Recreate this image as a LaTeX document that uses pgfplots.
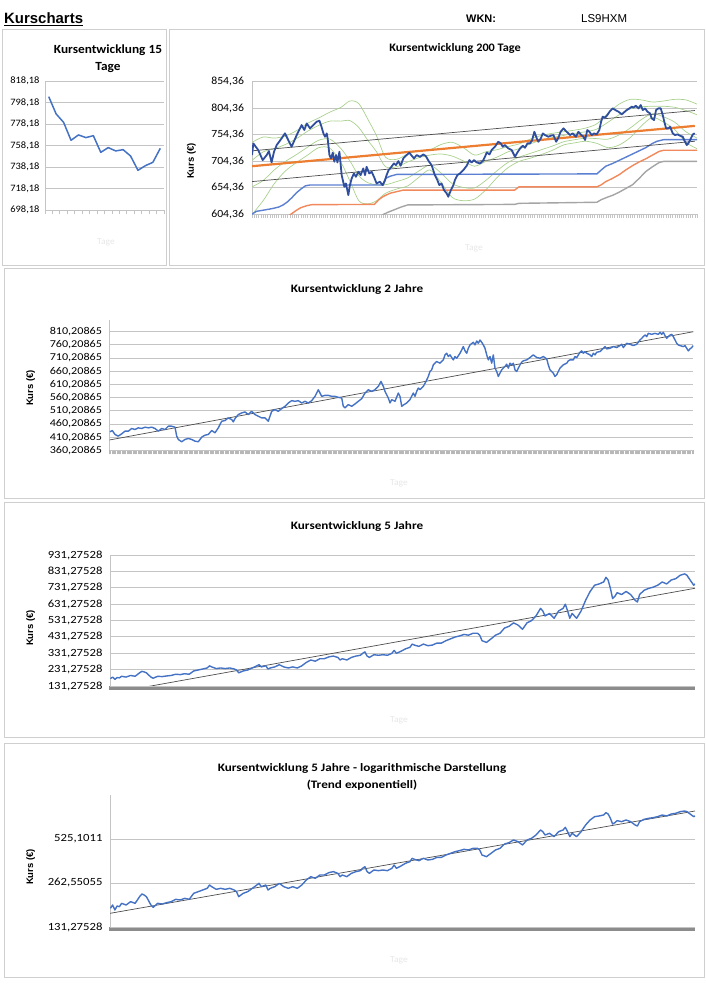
\documentclass[border=0pt]{standalone}
\usepackage{pgfplots}
\usepackage{pgfplotstable}
\pgfplotsset{compat=1.18}
\usepackage{fontspec}
\setmainfont{Carlito}
\newfontfamily\cfA[FakeStretch=1.07]{Carlito}
\newfontfamily\cfB[FakeStretch=1.16]{Carlito}
\newfontfamily\arial{Liberation Sans}

\definecolor{xlblue}{HTML}{4472C4}
\definecolor{xldark}{HTML}{2F4F9E}
\definecolor{stepblue}{HTML}{5B7FD1}
\definecolor{xlorange}{HTML}{ED7D31}
\definecolor{salmon}{HTML}{F2895C}
\definecolor{stepgray}{HTML}{A5A5A5}
\definecolor{xlgreen}{HTML}{A9D18E}
\definecolor{gridgray}{HTML}{C4C4C4}
\definecolor{bandgray}{HTML}{B8B8B8}
\definecolor{framegray}{HTML}{CFCFCF}
\definecolor{trendgray}{HTML}{4D4D4D}
\definecolor{faint}{HTML}{E6E6E6}

\pgfplotsset{
  xlaxis/.style={
    scale only axis, anchor=south west,
    axis lines*=left,
    axis line style={gridgray, line width=0.8bp},
    tick align=outside,
    ytick style={draw=none},
    ymajorgrids, grid style={gridgray, line width=0.8bp},
    xticklabels={},
    clip=true,
  },
}

% 5 Jahre, shared by the linear and the log chart (x in pixel units of the plot)
\pgfplotstableread{
x y
110.4 176.2
112.6 185.7
114.9 171.6
117.1 182.8
119.4 180.8
121.6 190.6
126.1 185.7
130.6 195.7
135.1 190.6
139.6 211.7
141.9 220.8
144.1 217.3
146.4 211.7
150.9 185.7
153.2 178.9
157.7 190.6
162.2 188.6
166.7 192.6
171.2 195.7
175.7 203.0
180.2 200.8
184.7 206.2
189.2 203.0
193.7 223.1
198.2 229.0
202.7 235.1
207.2 241.4
209.5 254.4
211.7 247.8
216.2 237.6
220.7 241.4
225.2 237.6
229.7 241.4
234.2 235.1
236.5 229.0
238.7 211.7
243.2 223.1
247.7 229.0
252.3 241.4
256.8 254.4
259.0 261.1
261.3 247.8
265.8 254.4
268.0 235.1
270.3 241.4
274.8 247.8
279.3 261.1
283.8 247.8
288.3 241.4
292.8 247.8
297.3 241.4
301.8 254.4
306.3 275.2
310.8 290.1
315.3 282.6
319.8 297.8
324.3 297.8
328.8 309.0
333.3 314.0
337.8 305.8
340.1 290.1
342.3 297.8
346.8 290.1
351.4 305.8
355.9 314.0
360.4 318.9
362.6 330.8
364.9 339.6
367.1 314.0
369.4 305.8
373.9 322.2
378.4 318.9
382.9 322.2
387.4 318.9
391.9 330.8
394.1 348.6
396.4 330.8
400.9 343.1
405.4 357.9
409.9 367.4
412.2 387.3
414.4 381.2
418.9 373.2
423.4 387.3
427.9 377.2
432.4 381.2
436.9 393.3
441.4 393.3
445.9 408.0
450.5 418.9
455.0 430.1
459.5 437.0
464.0 446.2
468.5 441.6
473.0 453.3
477.5 453.3
479.7 441.6
482.0 408.0
486.5 397.4
488.7 408.0
491.0 418.9
495.5 441.6
500.0 453.3
504.5 485.2
509.0 495.7
513.5 516.8
518.0 503.4
522.5 477.8
527.0 516.8
531.5 530.6
536.0 559.2
540.5 605.3
542.8 589.6
545.0 559.2
549.5 574.2
554.1 544.8
558.6 589.6
563.1 605.3
565.3 631.0
567.6 589.6
569.8 544.8
572.1 574.2
576.6 544.8
581.1 589.6
585.6 654.7
590.1 708.4
594.6 746.8
599.1 754.6
603.6 766.4
605.9 794.9
608.1 778.5
610.4 727.3
612.6 665.0
614.9 679.1
617.1 701.1
621.6 690.0
626.1 708.4
630.6 690.0
635.1 654.7
637.4 644.3
639.6 690.0
644.1 715.8
648.6 727.3
653.2 734.9
657.7 746.8
662.2 766.4
666.7 754.6
671.2 778.5
675.7 786.6
680.2 807.6
684.7 816.0
686.9 807.6
689.2 786.6
693.7 746.8
695.0 754.6
}\fuenfjahre

\begin{document}
\begin{tikzpicture}[x=1bp,y=1bp]
\path[use as bounding box] (0,0) rectangle (706,998);

% frames
\draw[framegray, line width=1bp] (2,732) rectangle (166,968);
\draw[framegray, line width=1bp] (169,732) rectangle (704.5,968);
\draw[framegray, line width=1bp] (4,499) rectangle (704.5,729);
\draw[framegray, line width=1bp] (4,260) rectangle (704.5,495);
\draw[framegray, line width=1bp] (4,20) rectangle (704.5,254);

% header
\node[anchor=base west, inner sep=0pt, font=\arial\bfseries\fontsize{15}{18}\selectfont] at (4,974) {\underline{Kurscharts}};
\node[anchor=base west, inner sep=0pt, font=\arial\bfseries\fontsize{11}{13}\selectfont] at (466,975) {WKN:};
\node[anchor=base west, inner sep=0pt, font=\arial\fontsize{11.5}{13}\selectfont] at (581,975) {LS9HXM};

% titles
\node[anchor=base, inner sep=0pt, font=\cfA\bfseries\fontsize{12.5}{14}\selectfont] at (108,944) {Kursentwicklung 15};
\node[anchor=base, inner sep=0pt, font=\cfA\bfseries\fontsize{12.5}{14}\selectfont] at (108,927) {Tage};
\node[anchor=base, inner sep=0pt, font=\cfA\bfseries\fontsize{11.5}{14}\selectfont] at (455,946) {Kursentwicklung 200 Tage};
\node[anchor=base, inner sep=0pt, font=\cfB\bfseries\fontsize{11.4}{14}\selectfont] at (357,705.3) {Kursentwicklung 2 Jahre};
\node[anchor=base, inner sep=0pt, font=\cfB\bfseries\fontsize{11.4}{14}\selectfont] at (357,468.7) {Kursentwicklung 5 Jahre};
\node[anchor=base, inner sep=0pt, font=\cfB\bfseries\fontsize{11.4}{14}\selectfont] at (362,226.3) {Kursentwicklung 5 Jahre - logarithmische Darstellung};
\node[anchor=base, inner sep=0pt, font=\cfB\bfseries\fontsize{11.4}{14}\selectfont] at (362,209.2) {(Trend exponentiell)};

% axis titles
\foreach \px/\py in {191.5/837, 30.6/610, 30.6/370, 30.6/131}
  \node[rotate=90, inner sep=0pt, font=\arial\bfseries\fontsize{9.5}{11}\selectfont] at (\px,\py) {Kurs (€)};
\foreach \px/\py in {106/756, 474/750, 399/515, 399/278, 399/38}
  \node[inner sep=0pt, text=faint, font=\cfA\fontsize{9}{11}\selectfont] at (\px,\py) {Tage};

% ---------- 15 Tage
\begin{axis}[xlaxis,
  at={(45bp,788bp)}, width=119bp, height=129bp,
  xmin=0.5, xmax=16.5, ymin=698.18, ymax=818.18,
  xtick={0.5,1.5,...,16.5}, major tick length=4bp,
  xtick style={gridgray, line width=0.8bp},
  ytick={698.18,718.18,738.18,758.18,778.18,798.18,818.18},
  yticklabels={{698,18},{718,18},{738,18},{758,18},{778,18},{798,18},{818,18}},
  yticklabel style={font=\cfA\fontsize{9.8}{11}\selectfont, xshift=2bp},
]
\addplot[xlblue, line width=1.5bp, line join=round] coordinates {
(1,803.6) (2,787.5) (3,779.7) (4,763.0) (5,768.0) (6,765.5) (7,767.3) (8,751.8)
(9,756.2) (10,753.1) (11,754.3) (12,748.4) (13,735.1) (14,739.4) (15,742.5) (16,755.5)};
\end{axis}

% ---------- 200 Tage
\begin{axis}[xlaxis,
  at={(252bp,783.7bp)}, width=445bp, height=132.6bp,
  xmin=0, xmax=200, ymin=604.36, ymax=854.36,
  xtick={0,1,...,200}, major tick length=3.5bp,
  xtick style={gridgray, line width=0.5bp},
  ytick={604.36,654.36,704.36,754.36,804.36,854.36},
  yticklabels={{604,36},{654,36},{704,36},{754,36},{804,36},{854,36}},
  yticklabel style={font=\cfA\fontsize{11}{12}\selectfont, xshift=-1bp},
]
% Bollinger-style bands
\addplot[xlgreen, line width=0.7bp, smooth] coordinates {
(0,740) (5,750) (10,748) (15,752) (20,762) (25,776) (30,786) (35,797) (40,806) (44,818) (48,813)
(52,784) (56,752) (60,712) (65,708) (70,718) (75,724) (80,726) (85,736) (90,740) (95,730) (100,716)
(105,722) (110,726) (115,732) (120,737) (125,746) (130,753) (135,757) (140,760) (145,763) (150,767)
(155,775) (160,795) (165,812) (170,821) (175,820) (180,816) (185,818) (190,821) (195,820) (200,812)};
\addplot[xlgreen, line width=0.7bp, smooth] coordinates {
(0,706) (5,722) (10,728) (15,736) (20,747) (25,761) (30,772) (35,780) (40,780) (44,781) (48,768)
(52,744) (56,722) (60,694) (65,694) (70,703) (75,711) (80,716) (85,718) (90,714) (95,705) (100,695)
(105,704) (110,712) (115,722) (120,728) (125,737) (130,744) (135,749) (140,753) (145,757) (150,760)
(155,765) (160,778) (165,792) (170,803) (175,807) (180,808) (185,808) (190,806) (195,800) (200,792)};
\addplot[xlgreen, line width=0.7bp, smooth] coordinates {
(0,656) (5,668) (10,688) (15,704) (20,717) (25,731) (30,744) (35,746) (40,728) (44,705) (48,677)
(52,664) (56,660) (60,660) (65,666) (70,673) (75,686) (80,697) (85,682) (90,662) (95,655) (100,654)
(105,668) (110,686) (115,702) (120,712) (125,719) (130,726) (135,733) (140,741) (145,745) (150,748)
(155,747) (160,746) (165,754) (170,767) (175,783) (180,794) (185,788) (190,778) (195,760) (200,748)};
\addplot[xlgreen, line width=0.7bp, smooth] coordinates {
(0,604) (5,630) (10,662) (15,686) (20,702) (25,716) (30,730) (35,729) (40,702) (44,667) (48,630)
(52,624) (56,630) (60,644) (65,652) (70,658) (75,674) (80,688) (85,664) (90,636) (95,630) (100,633)
(105,650) (110,673) (115,692) (120,704) (125,710) (130,717) (135,725) (140,735) (145,739) (150,742)
(155,738) (160,730) (165,735) (170,749) (175,771) (180,787) (185,778) (190,764) (195,740) (200,728)};
% rolling lows
\addplot[stepgray, line width=1.4bp] coordinates {
(0,585) (57,598) (59,604) (61,608) (64,613) (67,618) (70,622) (118,623) (120,625) (155,627) (157,632)
(160,637) (162,640) (165,646) (168,653) (171,660) (174,672) (177,685) (180,694) (183,702) (185,704) (200,704)};
\addplot[salmon, line width=1.4bp] coordinates {
(0,585) (16,600) (18,606) (20,612) (22,617) (25,621) (27,622.5) (55,623) (57,632) (59,638) (62,644)
(65,647) (68,650) (118,650) (120,656) (155,656) (157,660) (159,666) (162,672) (165,679) (168,688)
(171,696) (174,703) (177,709) (180,716) (183,723) (185,725) (200,725)};
\addplot[stepblue, line width=1.4bp] coordinates {
(0,604.5) (2,610) (5,612) (9,615) (12,618) (14,622) (16,628) (18,636) (20,645) (22,652) (24,658)
(26,659.5) (59,659.5) (60,672) (62,676) (65,679.5) (155,680.5) (157,688) (159,695) (162,700) (165,706)
(168,712) (171,718) (174,724) (177,730) (180,738) (182,742) (185,745) (200,745)};
% trend channel
\addplot[trendgray, line width=0.7bp] coordinates {(0,724) (199,800)};
\addplot[trendgray, line width=0.7bp] coordinates {(0,666) (199,742)};
\addplot[xlorange, line width=2.2bp] coordinates {(0,695) (199,771)};
% price
\addplot[xldark, line width=1.8bp, line join=round] coordinates {
(0,716.0) (0.6,738.0) (2.8,725.4) (4.8,706.5) (6.6,716.0) (7.6,723.5) (8.8,702.1) (9.9,722.3)
(11.1,734.9) (13.3,747.4) (14.8,756.9) (16.3,744.3) (17.8,731.7) (20.1,753.7) (22.3,772.6) (23.5,763.2)
(24.6,775.7) (26.1,766.3) (27.6,772.6) (29.1,778.9) (30.3,780.8) (31.0,772.6) (32.1,756.9) (32.8,750.6)
(33.6,756.9) (34.0,747.4) (34.8,716.0) (35.5,709.7) (36.3,720.4) (37.0,703.4) (37.8,716.0) (38.4,702.1)
(39.3,722.3) (40.3,678.2) (41.5,656.2) (42.2,662.5) (43.3,640.5) (44.0,659.4) (44.8,671.9) (45.8,681.4)
(46.7,675.1) (47.8,684.5) (48.8,678.2) (50.0,690.8) (50.8,678.2) (51.5,693.9) (52.7,681.4) (53.8,684.5)
(54.8,675.1) (56.0,662.5) (57.5,665.7) (58.7,659.4) (59.8,668.8) (60.5,678.2) (61.4,687.7) (62.3,692.1)
(63.8,700.3) (64.7,697.1) (65.8,704.7) (66.8,695.9) (68.0,709.7) (69.5,716.0) (70.7,720.4) (71.8,714.7)
(72.8,709.7) (74.0,716.0) (75.5,712.8) (77.0,717.2) (78.1,714.1) (79.6,703.4) (80.7,697.1) (82.2,678.2)
(83.3,668.8) (84.2,659.4) (85.2,662.5) (86.3,649.9) (87.5,643.6) (88.2,637.4) (89.4,649.9) (90.5,659.4)
(91.2,668.8) (92.3,678.2) (93.5,681.4) (95.0,687.7) (96.5,695.9) (97.7,706.5) (98.7,702.1) (99.8,706.5)
(101.0,702.1) (102.5,700.3) (103.7,704.7) (104.7,712.8) (105.5,721.0) (106.7,717.2) (107.7,725.4) (109.2,731.7)
(110.7,741.1) (111.8,738.0) (112.7,731.7) (113.7,734.9) (115.2,728.6) (116.7,725.4) (118.2,712.8) (119.3,721.0)
(120.5,728.6) (121.7,733.6) (122.7,729.8) (123.8,738.0) (125.0,738.0) (125.9,744.3) (126.9,760.0) (128.0,747.4)
(128.7,741.1) (129.8,747.4) (130.7,756.9) (131.7,753.7) (133.2,750.6) (134.3,752.5) (135.5,753.7) (136.7,741.1)
(137.7,748.7) (138.7,760.0) (140.0,766.3) (141.1,761.3) (142.2,756.9) (142.9,753.7) (144.1,756.9) (145.6,750.6)
(146.7,760.0) (147.7,755.0) (148.9,750.6) (149.7,744.3) (150.7,763.2) (151.6,760.0) (152.7,753.7) (153.7,756.9)
(154.9,755.0) (156.1,763.2) (156.9,778.9) (157.6,788.3) (158.7,786.4) (159.7,791.5) (160.9,799.0) (162.1,804.0)
(163.3,800.9) (164.7,797.8) (166.2,792.7) (167.2,796.5) (168.4,800.9) (169.6,804.0) (170.7,807.2) (171.4,805.3)
(172.5,809.1) (173.7,804.0) (174.7,810.3) (175.6,800.9) (176.7,804.0) (177.7,797.8) (178.9,794.6) (179.6,785.2)
(180.7,782.0) (181.6,800.9) (182.6,804.0) (183.7,804.0) (184.6,791.5) (185.3,778.9) (186.1,766.3) (187.1,766.3)
(187.9,769.4) (189.1,756.9) (190.1,753.7) (191.2,755.0) (192.4,752.5) (193.6,750.6) (194.6,741.1) (195.4,734.9)
(196.1,738.0) (196.9,744.3) (198.1,755.0) (199.0,757.0)};
\end{axis}

% ---------- 2 Jahre
\begin{axis}[xlaxis,
  at={(109.5bp,547.5bp)}, width=583.8bp, height=130.9bp,
  xmin=109.5, xmax=693.3, ymin=360.20865, ymax=856,
  xtick={109.5,110.742,...,693.3}, major tick length=4bp,
  xtick style={bandgray, line width=0.75bp},
  ytick={360.20865,410.20865,460.20865,510.20865,560.20865,610.20865,660.20865,710.20865,760.20865,810.20865},
  yticklabels={{360,20865},{410,20865},{460,20865},{510,20865},{560,20865},{610,20865},{660,20865},{710,20865},{760,20865},{810,20865}},
  yticklabel style={font=\cfB\fontsize{10.5}{12}\selectfont},
]
\addplot[trendgray, line width=0.7bp] coordinates {(109.5,400) (693.3,810)};
\addplot[xlblue, line width=1.4bp, line join=round] coordinates {
(110.0,430.9) (112.3,435.9) (115.0,420.8) (118.3,414.6) (121.7,423.4) (125.0,433.4) (128.3,433.4) (131.7,443.5)
(135.0,439.7) (138.3,446.0) (141.7,443.5) (145.0,448.5) (148.3,446.0) (151.7,448.5) (155.0,443.5) (158.3,433.4)
(161.7,443.5) (165.0,439.7) (168.3,452.2) (171.7,452.2) (175.0,448.5) (176.7,414.6) (178.3,402.0) (181.7,393.2)
(185.0,402.0) (188.3,405.8) (191.7,402.0) (195.0,395.7) (198.3,393.2) (201.7,410.8) (205.0,418.3) (208.3,420.8)
(211.7,435.9) (215.0,427.2) (218.3,446.0) (221.7,471.1) (225.0,473.6) (228.3,483.6) (231.7,477.4) (233.3,468.6)
(235.0,481.1) (238.3,496.2) (241.7,502.5) (245.0,506.2) (248.3,496.2) (251.7,508.8) (255.0,496.2) (258.3,489.9)
(261.7,483.6) (265.0,483.6) (268.3,471.1) (271.7,508.8) (275.0,515.0) (278.3,508.8) (281.7,518.8) (285.0,527.6)
(288.3,540.2) (291.7,549.0) (295.0,546.4) (298.3,549.0) (301.7,540.2) (305.0,546.4) (308.3,540.2) (311.7,549.0)
(315.0,565.3) (318.3,590.4) (320.0,577.8) (321.7,565.3) (325.0,569.0) (328.3,569.0) (331.7,565.3) (335.0,565.3)
(338.3,561.5) (341.7,559.0) (343.3,527.6) (345.0,521.3) (348.3,533.9) (351.7,527.6) (355.0,536.4) (358.3,546.4)
(361.7,556.5) (365.0,577.8) (368.3,590.4) (371.7,584.1) (375.0,590.4) (378.3,603.0) (381.0,621.8) (383.3,603.0)
(385.0,584.1) (388.3,559.0) (390.0,540.2) (391.7,552.7) (395.0,546.4) (398.3,577.8) (400.0,565.3) (401.7,527.6)
(404.0,533.9) (406.7,540.2) (410.0,552.7) (413.3,577.8) (415.0,565.3) (416.7,584.1) (418.3,596.7) (420.0,590.4)
(423.3,603.0) (426.0,621.8) (428.3,640.6) (430.0,659.5) (431.7,665.8) (433.3,684.6) (436.7,697.2) (440.0,690.9)
(443.3,703.4) (445.0,722.3) (446.7,728.6) (448.3,716.0) (450.0,722.3) (451.7,712.2) (453.3,703.4) (455.0,716.0)
(456.7,709.7) (460.0,728.6) (461.7,741.1) (463.3,753.7) (465.0,737.4) (466.7,728.6) (468.3,747.4) (470.0,760.0)
(473.3,770.0) (475.0,760.0) (476.7,775.0) (478.3,766.2) (480.0,778.8) (481.7,770.0) (483.3,760.0) (485.0,747.4)
(486.7,722.3) (488.3,703.4) (490.0,716.0) (491.7,690.9) (493.3,722.3) (495.0,672.0) (496.7,659.5) (498.3,640.6)
(500.0,653.2) (501.7,665.8) (503.3,672.0) (505.0,678.3) (506.7,687.1) (508.3,672.0) (510.0,690.9) (511.7,684.6)
(513.3,690.9) (515.0,665.8) (516.7,659.5) (518.3,672.0) (520.0,684.6) (521.7,694.6) (523.3,699.7) (526.7,703.4)
(530.0,712.2) (533.3,722.3) (536.7,712.2) (540.0,709.7) (543.3,716.0) (546.7,707.2) (548.3,684.6) (550.0,665.8)
(551.7,659.5) (553.3,653.2) (555.0,640.6) (556.7,646.9) (558.3,659.5) (560.0,672.0) (563.3,684.6) (566.7,690.9)
(568.3,699.7) (570.0,703.4) (573.3,703.4) (575.0,716.0) (576.7,712.2) (578.3,722.3) (580.0,732.3) (581.7,737.4)
(583.3,728.6) (585.0,734.9) (586.7,728.6) (590.0,722.3) (591.7,716.0) (593.3,728.6) (595.0,722.3) (596.7,732.3)
(600.0,734.9) (603.3,747.4) (605.0,753.7) (606.7,744.9) (610.0,747.4) (613.3,753.7) (616.7,749.9) (620.0,757.5)
(621.7,762.5) (623.3,749.9) (626.7,766.2) (630.0,762.5) (633.3,757.5) (635.0,760.0) (636.7,762.5) (640.0,778.8)
(641.7,785.1) (643.3,791.4) (645.0,797.6) (646.7,791.4) (648.3,803.9) (651.7,800.2) (655.0,803.9) (658.3,800.2)
(660.0,807.7) (661.7,800.2) (663.3,807.7) (665.0,795.1) (666.7,785.1) (668.3,791.4) (670.0,797.6) (671.7,800.2)
(673.3,791.4) (675.0,778.8) (676.7,766.2) (678.3,760.0) (680.0,757.5) (683.3,753.7) (685.0,757.5) (686.7,747.4)
(688.3,737.4) (690.0,744.9) (691.7,749.9) (693.3,757.5)};
\end{axis}

% ---------- 5 Jahre
\begin{axis}[xlaxis,
  at={(110bp,312bp)}, width=585bp, height=131bp,
  xmin=110, xmax=695, ymin=131.27528, ymax=931.27528,
  xtick={110,112,...,694}, major tick length=4bp,
  xtick style={black!45, line width=2.1bp},
  ytick={131.27528,231.27528,331.27528,431.27528,531.27528,631.27528,731.27528,831.27528,931.27528},
  yticklabels={{131,27528},{231,27528},{331,27528},{431,27528},{531,27528},{631,27528},{731,27528},{831,27528},{931,27528}},
  yticklabel style={font=\cfB\fontsize{11}{12}\selectfont},
]
\addplot[trendgray, line width=0.7bp] coordinates {(110,86.3) (695,728)};
\addplot[xlblue, line width=1.4bp, line join=round] table[x=x, y=y] {\fuenfjahre};
\end{axis}

% ---------- 5 Jahre log
\begin{axis}[xlaxis,
  at={(110bp,71bp)}, width=585bp, height=132bp,
  xmin=110, xmax=695, ymode=log, log basis y=2,
  ymin=131.27528, ymax=1050.20224,
  xtick={110,112,...,694}, major tick length=4bp,
  xtick style={black!45, line width=2.1bp},
  ytick={131.27528,262.55055,525.1011},
  yticklabels={{131,27528},{262,55055},{525,1011}},
  yticklabel style={font=\cfB\fontsize{11}{12}\selectfont},
]
\addplot[trendgray, line width=0.7bp] coordinates {(110,162.8) (695,816)};
\addplot[xlblue, line width=1.4bp, line join=round] table[x=x, y=y] {\fuenfjahre};
\end{axis}

\end{tikzpicture}
\end{document}
